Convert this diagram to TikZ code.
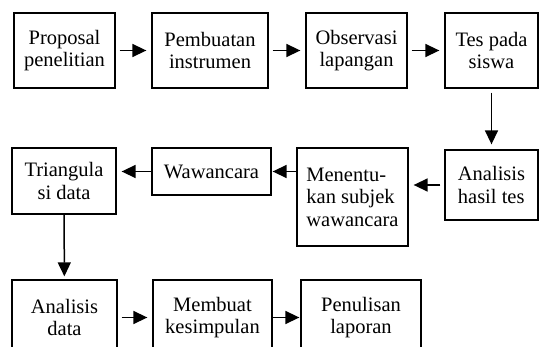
\documentclass[tikz,border=0pt]{standalone}
\usepackage{fontspec}
\setmainfont{Liberation Serif}
\usetikzlibrary{arrows.meta}

\begin{document}
\begin{tikzpicture}[x=1pt,y=-1pt,line width=1.3pt,
    box/.style={draw,align=center,inner sep=0pt,minimum height=75pt,
      font=\fontsize{20.5}{22.5}\selectfont},
    flow/.style={-{Triangle[length=14pt,width=13pt]},line width=1.5pt,shorten <=4pt,shorten >=5pt}]
  \clip (0,0) rectangle (539,347);

  % first row
  \node[box,minimum width=101pt]	(A) at (64.5,50.5)	{Proposal\\penelitian};
  \node[box,minimum width=116pt]	(B) at (210,50.5)	{Pembuatan\\instrumen};
  \node[box,minimum width=101pt]	(C) at (356.5,50.5)	{Observasi\\lapangan};
  \node[box,minimum width=93pt]	(D) at (491.5,50.5)	{Tes pada\\siswa};

  % second row
  \node[box,align=left,minimum width=93pt,minimum height=70pt]	(E) at (491.5,185)	{Analisis\\hasil tes};
  \node[box,align=left,minimum width=111pt,minimum height=98pt]	(F) at (352.5,197)	{Menentu-\\kan subjek\\wawancara};
  \node[box,minimum width=119pt,minimum height=47pt]	(G) at (211.5,171.5)	{Wawancara};
  \node[box,minimum width=104pt,minimum height=66pt]	(H) at (64,181)	{Triangula\\si data};

  % third row
  \node[box,minimum width=105pt]	(I) at (64.5,317.5)	{Analisis\\data};
  \node[box,minimum width=119pt]	(J) at (212.5,317.5)	{Membuat\\kesimpulan};
  \node[box,minimum width=120pt]	(K) at (361,317.5)	{Penulisan\\laporan};

  \path	(A) edge[flow] (B)
		(B) edge[flow] (C)
		(C) edge[flow] (D)
		(D) edge[flow] (E)
		(E.west) edge[flow] (E.west -| F.east)
		(G.east -| F.west) edge[flow,shorten <=0pt,shorten >=1pt] (G.east)
		(G.west) edge[flow,shorten <=0pt] (G.west -| H.east)
		(H) edge[flow,shorten <=0pt,shorten >=3pt] (I)
		(I) edge[flow] (J)
		(J) edge[flow,shorten <=0pt,shorten >=1pt] (K);
\end{tikzpicture}
\end{document}
